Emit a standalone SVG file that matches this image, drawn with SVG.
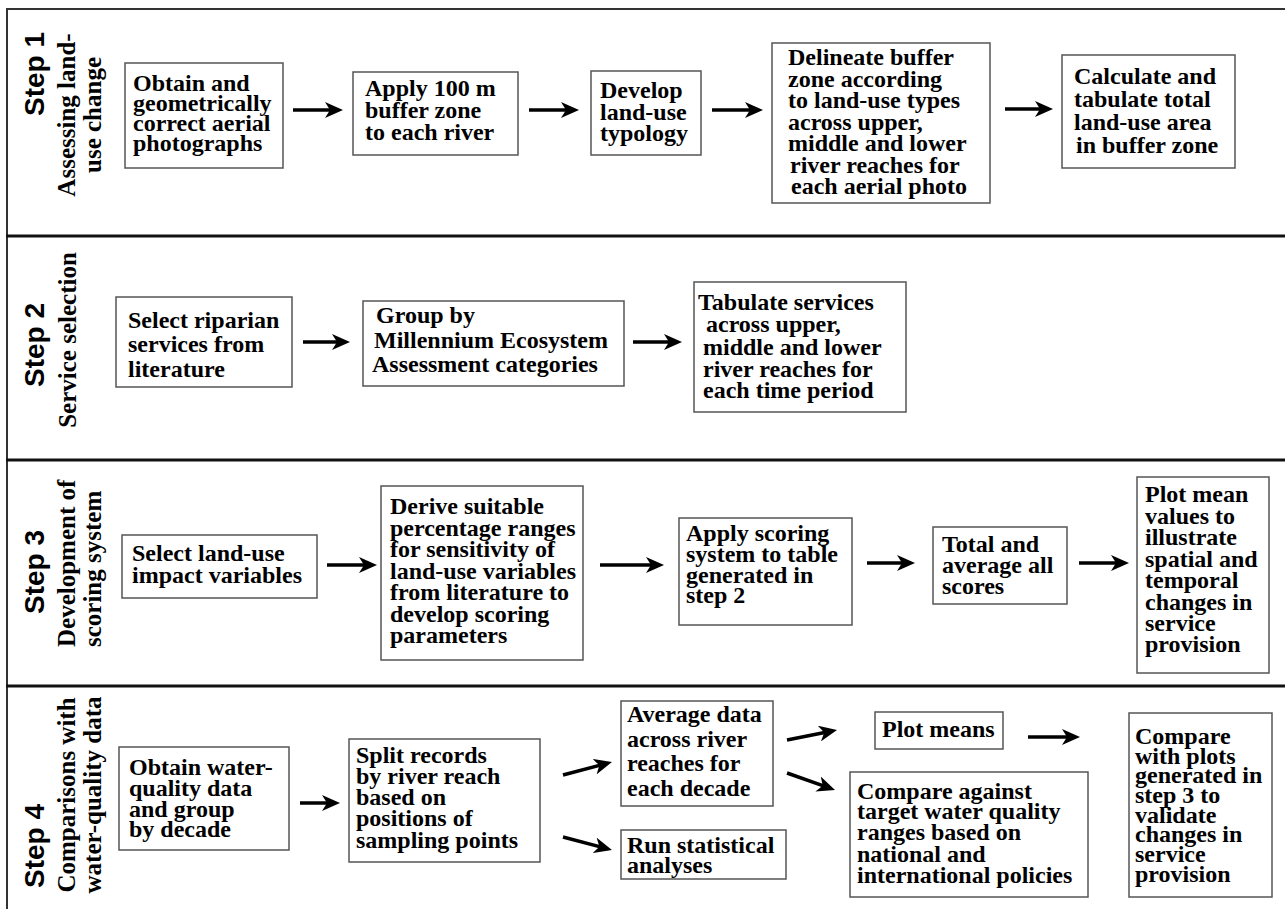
<svg xmlns="http://www.w3.org/2000/svg" width="1285" height="909" viewBox="0 0 1285 909">
<defs>
<marker id="ah" markerUnits="userSpaceOnUse" markerWidth="18" markerHeight="16" viewBox="0 0 18 16" refX="8" refY="8" orient="auto">
<path d="M0,0 L18,8 L0,16 L5,8 Z" fill="#000"/>
</marker>
<style>
.box{fill:#fff;stroke:#555;stroke-width:1.5}
.t{font-family:"Liberation Serif","Times New Roman",serif;font-weight:bold;font-size:24px;fill:#000}
.step{font-family:"Liberation Sans",Arial,sans-serif;font-weight:bold;font-size:28px;fill:#000}
.sub{font-family:"Liberation Serif","Times New Roman",serif;font-weight:bold;font-size:25px;fill:#000}
.arr{stroke:#000;stroke-width:3.5;fill:none;marker-end:url(#ah)}
.div{stroke:#111;stroke-width:3}
</style>
</defs>
<rect width="1285" height="909" fill="#fff"/>
<g id="frame">
<line x1="7" y1="9" x2="1285" y2="9" stroke="#333" stroke-width="2"/>
<line x1="7" y1="8" x2="7" y2="909" stroke="#333" stroke-width="2"/>
<line class="div" x1="6" y1="236" x2="1285" y2="236"/>
<line class="div" x1="6" y1="460" x2="1285" y2="460"/>
<line class="div" x1="6" y1="686" x2="1285" y2="686"/>
</g>
<g id="labels">
<text class="step" transform="translate(44,74) rotate(-90)" text-anchor="middle">Step 1</text>
<text class="sub" transform="translate(75,115) rotate(-90)" text-anchor="middle">Assessing land-</text>
<text class="sub" transform="translate(101,115) rotate(-90)" text-anchor="middle">use change</text>
<text class="step" transform="translate(44,345) rotate(-90)" text-anchor="middle">Step 2</text>
<text class="sub" transform="translate(76,340) rotate(-90)" text-anchor="middle">Service selection</text>
<text class="step" transform="translate(44,572) rotate(-90)" text-anchor="middle">Step 3</text>
<text class="sub" transform="translate(75,647) rotate(-90)">Development of</text>
<text class="sub" transform="translate(101,647) rotate(-90)">scoring system</text>
<text class="step" transform="translate(44,846) rotate(-90)" text-anchor="middle">Step 4</text>
<text class="sub" transform="translate(75,795) rotate(-90)" text-anchor="middle">Comparisons with</text>
<text class="sub" transform="translate(101,795) rotate(-90)" text-anchor="middle">water-quality data</text>
</g>
<g id="n1a"><rect class="box" x="125" y="63" width="158" height="105"/>
<text class="t" x="133"><tspan x="133" y="91">Obtain and</tspan><tspan x="133" y="111">geometrically</tspan><tspan x="133" y="131">correct aerial</tspan><tspan x="133" y="151">photographs</tspan></text></g>
<g id="n1b"><rect class="box" x="353" y="72" width="165" height="83"/>
<text class="t"><tspan x="365" y="96">Apply 100 m</tspan><tspan x="365" y="118">buffer zone</tspan><tspan x="365" y="140">to each river</tspan></text></g>
<g id="n1c"><rect class="box" x="591" y="71" width="110" height="84"/>
<text class="t"><tspan x="600" y="98">Develop</tspan><tspan x="600" y="120">land-use</tspan><tspan x="600" y="141">typology</tspan></text></g>
<g id="n1d"><rect class="box" x="772" y="43" width="218" height="160"/>
<text class="t"><tspan x="788" y="65">Delineate buffer</tspan><tspan x="788" y="86.5">zone according</tspan><tspan x="788" y="108">to land-use types</tspan><tspan x="788" y="129.5">across upper,</tspan><tspan x="788" y="151">middle and lower</tspan><tspan x="790" y="172.5">river reaches for</tspan><tspan x="791" y="194">each aerial photo</tspan></text></g>
<g id="n1e"><rect class="box" x="1062" y="55" width="173" height="113"/>
<text class="t"><tspan x="1074" y="84">Calculate and</tspan><tspan x="1074" y="107">tabulate total</tspan><tspan x="1074" y="130">land-use area</tspan><tspan x="1076" y="153">in buffer zone</tspan></text></g>
<g id="n2a"><rect class="box" x="116" y="297" width="176" height="90"/>
<text class="t"><tspan x="128" y="328">Select riparian</tspan><tspan x="128" y="352">services from</tspan><tspan x="128" y="377">literature</tspan></text></g>
<g id="n2b"><rect class="box" x="363" y="301" width="261" height="85"/>
<text class="t"><tspan x="376" y="323">Group by</tspan><tspan x="374" y="348">Millennium Ecosystem</tspan><tspan x="372" y="372">Assessment categories</tspan></text></g>
<g id="n2c"><rect class="box" x="694" y="282" width="212" height="130"/>
<text class="t"><tspan x="698" y="310">Tabulate services</tspan><tspan x="706" y="332">across upper,</tspan><tspan x="703" y="355">middle and lower</tspan><tspan x="703" y="377">river reaches for</tspan><tspan x="703" y="398">each time period</tspan></text></g>
<g id="n3a"><rect class="box" x="122" y="535" width="195" height="63"/>
<text class="t"><tspan x="132" y="561">Select land-use</tspan><tspan x="132" y="583">impact variables</tspan></text></g>
<g id="n3b"><rect class="box" x="381" y="486" width="202" height="174"/>
<text class="t"><tspan x="390" y="514">Derive suitable</tspan><tspan x="390" y="535.5">percentage ranges</tspan><tspan x="390" y="557">for sensitivity of</tspan><tspan x="390" y="578.5">land-use variables</tspan><tspan x="390" y="600">from literature to</tspan><tspan x="390" y="621.5">develop scoring</tspan><tspan x="390" y="643">parameters</tspan></text></g>
<g id="n3c"><rect class="box" x="679" y="518" width="173" height="107"/>
<text class="t"><tspan x="686" y="541">Apply scoring</tspan><tspan x="686" y="562">system to table</tspan><tspan x="686" y="583">generated in</tspan><tspan x="686" y="603">step 2</tspan></text></g>
<g id="n3d"><rect class="box" x="933" y="527" width="134" height="77"/>
<text class="t"><tspan x="942" y="552">Total and</tspan><tspan x="942" y="573">average all</tspan><tspan x="942" y="594">scores</tspan></text></g>
<g id="n3e"><rect class="box" x="1137" y="477" width="132" height="196"/>
<text class="t"><tspan x="1145" y="502">Plot mean</tspan><tspan x="1145" y="523.5">values to</tspan><tspan x="1145" y="545">illustrate</tspan><tspan x="1145" y="566.5">spatial and</tspan><tspan x="1145" y="588">temporal</tspan><tspan x="1145" y="609.5">changes in</tspan><tspan x="1145" y="631">service</tspan><tspan x="1145" y="652">provision</tspan></text></g>
<g id="n4a"><rect class="box" x="119" y="747" width="170" height="103"/>
<text class="t"><tspan x="129" y="775">Obtain water-</tspan><tspan x="129" y="796">quality data</tspan><tspan x="129" y="817">and group</tspan><tspan x="129" y="837">by decade</tspan></text></g>
<g id="n4b"><rect class="box" x="349" y="739" width="191" height="123"/>
<text class="t"><tspan x="356" y="763">Split records</tspan><tspan x="356" y="784">by river reach</tspan><tspan x="356" y="805">based on</tspan><tspan x="356" y="826">positions of</tspan><tspan x="356" y="848">sampling points</tspan></text></g>
<g id="n4c"><rect class="box" x="621" y="701" width="152" height="105"/>
<text class="t"><tspan x="627" y="722">Average data</tspan><tspan x="627" y="747">across river</tspan><tspan x="627" y="771">reaches for</tspan><tspan x="627" y="796">each decade</tspan></text></g>
<g id="n4d"><rect class="box" x="621" y="830" width="165" height="49"/>
<text class="t"><tspan x="627" y="853">Run statistical</tspan><tspan x="627" y="873">analyses</tspan></text></g>
<g id="n4e"><rect class="box" x="875" y="712" width="128" height="37"/>
<text class="t" x="882" y="737">Plot means</text></g>
<g id="n4f"><rect class="box" x="850" y="772" width="238" height="125"/>
<text class="t"><tspan x="857" y="799">Compare against</tspan><tspan x="857" y="819">target water quality</tspan><tspan x="857" y="840">ranges based on</tspan><tspan x="857" y="862">national and</tspan><tspan x="857" y="883">international policies</tspan></text></g>
<g id="n4g"><rect class="box" x="1129" y="713" width="143" height="184"/>
<text class="t"><tspan x="1135" y="744">Compare</tspan><tspan x="1135" y="764">with plots</tspan><tspan x="1135" y="783">generated in</tspan><tspan x="1135" y="803">step 3 to</tspan><tspan x="1135" y="823">validate</tspan><tspan x="1135" y="842">changes in</tspan><tspan x="1135" y="862">service</tspan><tspan x="1135" y="882">provision</tspan></text></g>
<g id="connectors">
<line class="arr" x1="293" y1="110" x2="333" y2="110"/>
<line class="arr" x1="529" y1="110" x2="569" y2="110"/>
<line class="arr" x1="712" y1="110" x2="753" y2="110"/>
<line class="arr" x1="1005" y1="109" x2="1043" y2="109"/>
<line class="arr" x1="303" y1="342" x2="340" y2="342"/>
<line class="arr" x1="633" y1="342" x2="672" y2="342"/>
<line class="arr" x1="327" y1="565" x2="367" y2="565"/>
<line class="arr" x1="600" y1="565" x2="654" y2="565"/>
<line class="arr" x1="867" y1="563" x2="905" y2="563"/>
<line class="arr" x1="1079" y1="563" x2="1119" y2="563"/>
<line class="arr" x1="300" y1="803" x2="330" y2="803"/>
<line class="arr" x1="563" y1="775" x2="602.3" y2="764.6"/>
<line class="arr" x1="563" y1="837" x2="602.3" y2="847.4"/>
<line class="arr" x1="787" y1="740" x2="827.2" y2="732"/>
<line class="arr" x1="787" y1="773" x2="825.6" y2="786.7"/>
<line class="arr" x1="1028" y1="737" x2="1070" y2="737"/>
</g>
</svg>
